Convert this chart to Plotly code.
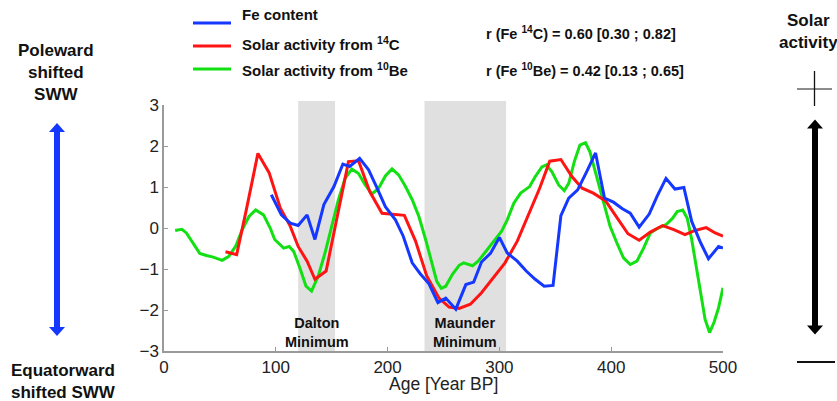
import plotly.graph_objects as go

# ---------------- data ----------------
fe_age = [96, 105, 113, 120, 128, 135, 143, 152, 160, 166, 175, 183, 190, 198, 207, 214,
          222, 229, 237, 245, 252, 261, 270, 277, 284, 292, 300, 307, 316, 324, 332, 340,
          348, 355, 362, 370, 378, 386, 394, 402, 410, 417, 425, 434, 441, 449, 457, 465,
          472, 480, 487, 496, 500]
fe_val = [0.81, 0.32, 0.12, 0.06, 0.32, -0.28, 0.57, 1.01, 1.56, 1.50, 1.70, 1.42, 1.01, 0.52, 0.20, -0.20,
          -0.85, -1.11, -1.36, -1.82, -1.71, -1.98, -1.38, -1.32, -0.83, -0.62, -0.23, -0.61, -0.81, -1.05, -1.25, -1.42,
          -1.40, 0.30, 0.73, 0.93, 1.37, 1.83, 0.73, 0.63, 0.47, 0.36, 0.02, 0.34, 0.77, 1.21, 0.95, 0.99,
          0.16, -0.36, -0.75, -0.45, -0.49]

c14_age = [55, 65, 74, 84, 94, 104, 113, 120, 128, 135, 145, 165, 174, 184, 195, 205, 215, 225,
           235, 246, 255, 264, 274, 284, 295, 305, 316, 326, 336, 345, 355, 365, 374, 384, 395,
           405, 415, 425, 435, 446, 456, 466, 475, 485, 493, 500]
c14_val = [-0.58, -0.65, 0.49, 1.82, 1.35, 0.49, 0.04, -0.45, -0.81, -1.25, -1.05, 1.62, 1.64, 0.89, 0.36, 0.34, 0.31, -0.32,
           -1.17, -1.71, -1.93, -1.96, -1.86, -1.58, -1.21, -0.85, -0.32, 0.32, 0.97, 1.63, 1.67, 1.25, 0.97, 0.85, 0.66,
           0.26, -0.14, -0.30, -0.10, 0.06, -0.04, -0.16, -0.06, 0.01, -0.12, -0.20]

be10_age = [10, 16, 20, 26, 32, 38, 44, 52, 58, 64, 70, 76, 82, 89, 95, 99, 107, 112, 116, 122, 127, 132,
            138, 144, 150, 156, 162, 168, 174, 180, 186, 192, 198, 204, 210, 216, 222, 228, 234, 240, 244,
            248, 252, 258, 264, 268, 276, 281, 289, 295, 302, 307, 313, 319, 327, 332, 338, 342, 347, 353,
            358, 362, 367, 372, 377, 381, 387, 393, 399, 405, 411, 417, 423, 429, 435, 442, 449, 455, 459,
            464, 468, 472, 477, 481, 484, 488, 492, 496, 500]
be10_val = [-0.06, -0.03, -0.12, -0.36, -0.62, -0.67, -0.71, -0.79, -0.69, -0.45, -0.04, 0.28, 0.44, 0.32, 0.00, -0.28,
            -0.49, -0.45, -0.57, -1.01, -1.42, -1.54, -1.17, -0.61, 0.04, 0.69, 1.21, 1.44, 1.33, 1.05, 0.83, 0.97,
            1.27, 1.44, 1.29, 1.01, 0.69, 0.28, -0.28, -0.93, -1.30, -1.47, -1.42, -1.13, -0.91, -0.85, -0.92, -0.81,
            -0.53, -0.32, -0.08, 0.20, 0.61, 0.85, 1.01, 1.25, 1.49, 1.54, 1.37, 1.05, 0.91, 1.09, 1.62, 2.02, 2.08,
            1.86, 1.25, 0.61, 0.04, -0.36, -0.73, -0.89, -0.81, -0.49, -0.12, 0.00, 0.08, 0.24, 0.40, 0.44, 0.24,
            -0.28, -1.09, -1.82, -2.23, -2.55, -2.30, -1.95, -1.46]

minima_names = ["Dalton<br>Minimum", "Maunder<br>Minimum"]
minima_start = [120, 233]
minima_end = [153, 306]

x_ticks = [0, 100, 200, 300, 400, 500]
y_ticks = [-3, -2, -1, 0, 1, 2, 3]

BLUE = "#1438ff"
RED = "#ff1414"
GREEN = "#12e012"
FONT = "Liberation Sans, Arial, Helvetica, sans-serif"

# ---------------- geometry (pixels) ----------------
W_PX, H_PX = 837, 401
L, R, T, B = 164, 723, 105, 351
PW, PH = R - L, B - T


def xp(px):
    return (px - L) / PW


def yp(py):
    return (B - py) / PH


fig = go.Figure()
fig.add_trace(go.Scatter(x=be10_age, y=be10_val, mode="lines", name="Solar activity from 10Be",
                         line=dict(color=GREEN, width=3), showlegend=False))
fig.add_trace(go.Scatter(x=c14_age, y=c14_val, mode="lines", name="Solar activity from 14C",
                         line=dict(color=RED, width=3), showlegend=False))
fig.add_trace(go.Scatter(x=fe_age, y=fe_val, mode="lines", name="Fe content",
                         line=dict(color=BLUE, width=3), showlegend=False))

shapes = []
annotations = []


def bold(text):
    return "<br>".join("<b>" + part + "</b>" for part in text.split("<br>"))


# shaded minima
for name, s, e in zip(minima_names, minima_start, minima_end):
    shapes.append(dict(type="rect", xref="x", yref="paper", x0=s, x1=e, y0=0, y1=yp(101),
                       fillcolor="#e0e0e0", line=dict(width=0), layer="below"))
    annotations.append(dict(xref="x", yref="paper", x=(s + e) / 2, y=yp(332.5), text=bold(name),
                            showarrow=False, xanchor="center", yanchor="middle",
                            font=dict(family=FONT, size=14.5, color="#111")))

# legend (custom)
leg_items = [("Fe content", BLUE, 23, 15),
             ("Solar activity from <sup>14</sup>C", RED, 46, 43),
             ("Solar activity from <sup>10</sup>Be", GREEN, 69, 70)]
for text, col, ly, ty in leg_items:
    shapes.append(dict(type="line", xref="paper", yref="paper", x0=xp(193), x1=xp(231),
                       y0=yp(ly), y1=yp(ly), line=dict(color=col, width=3)))
    annotations.append(dict(xref="paper", yref="paper", x=xp(240), y=yp(ty), text=bold(text),
                            showarrow=False, xanchor="left", yanchor="middle",
                            font=dict(family=FONT, size=15, color="#111")))

annotations.append(dict(xref="paper", yref="paper", x=xp(484), y=yp(33),
                        text=bold("r (Fe <sup>14</sup>C) = 0.60 [0.30 ; 0.82]"),
                        showarrow=False, xanchor="left", yanchor="middle",
                        font=dict(family=FONT, size=14.5, color="#111")))
annotations.append(dict(xref="paper", yref="paper", x=xp(484), y=yp(70),
                        text=bold("r (Fe <sup>10</sup>Be) = 0.42 [0.13 ; 0.65]"),
                        showarrow=False, xanchor="left", yanchor="middle",
                        font=dict(family=FONT, size=14.5, color="#111")))

# side labels
annotations.append(dict(xref="paper", yref="paper", x=xp(55.5), y=yp(72.5),
                        text=bold("Poleward<br>shifted<br>SWW"),
                        showarrow=False, xanchor="center", yanchor="middle",
                        font=dict(family=FONT, size=17, color="#111")))
annotations.append(dict(xref="paper", yref="paper", x=xp(63.5), y=yp(381),
                        text=bold("Equatorward<br>shifted SWW"),
                        showarrow=False, xanchor="center", yanchor="middle",
                        font=dict(family=FONT, size=17, color="#111")))
annotations.append(dict(xref="paper", yref="paper", x=xp(808.5), y=yp(31),
                        text=bold("Solar<br>activity"),
                        showarrow=False, xanchor="center", yanchor="middle",
                        font=dict(family=FONT, size=17, color="#111")))

# x axis title
annotations.append(dict(xref="paper", yref="paper", x=xp(443), y=yp(384),
                        text="Age [Year BP]", showarrow=False, xanchor="center", yanchor="middle",
                        font=dict(family=FONT, size=17.5, color="#222")))


def arrow_path(cx, yt, yb, sh=3.0, hh=8.0, hl=9.0):
    pts = [(cx - sh, yt + hl), (cx - hh, yt + hl), (cx, yt), (cx + hh, yt + hl), (cx + sh, yt + hl),
           (cx + sh, yb - hl), (cx + hh, yb - hl), (cx, yb), (cx - hh, yb - hl), (cx - sh, yb - hl)]
    return "M " + " L ".join(f"{xp(x):.5f},{yp(y):.5f}" for x, y in pts) + " Z"


shapes.append(dict(type="path", xref="paper", yref="paper", path=arrow_path(57, 123, 336),
                   fillcolor=BLUE, line=dict(width=0)))
shapes.append(dict(type="path", xref="paper", yref="paper", path=arrow_path(815, 119.5, 334.5),
                   fillcolor="#000000", line=dict(width=0)))
# plus and minus signs
shapes.append(dict(type="line", xref="paper", yref="paper", x0=xp(797), x1=xp(832), y0=yp(89), y1=yp(89),
                   line=dict(color="#666", width=1.3)))
shapes.append(dict(type="line", xref="paper", yref="paper", x0=xp(814.5), x1=xp(814.5), y0=yp(71), y1=yp(106),
                   line=dict(color="#111", width=1.3)))
shapes.append(dict(type="line", xref="paper", yref="paper", x0=xp(797), x1=xp(835), y0=yp(362), y1=yp(362),
                   line=dict(color="#111", width=2)))

axis_common = dict(showgrid=False, zeroline=False, showline=True, linecolor="#9a9a9a", linewidth=1.5,
                   ticks="inside", ticklen=4, tickcolor="#9a9a9a", tickwidth=1,
                   tickfont=dict(family=FONT, size=17, color="#222"), mirror=False)

fig.update_layout(
    width=W_PX, height=H_PX,
    margin=dict(l=L, r=W_PX - R, t=T, b=H_PX - B, pad=0),
    paper_bgcolor="white", plot_bgcolor="white",
    xaxis=dict(range=[0, 500], tickvals=x_ticks, ticklabelstandoff=0, **axis_common),
    yaxis=dict(range=[-3, 3], tickvals=y_ticks, **axis_common),
    shapes=shapes, annotations=annotations, showlegend=False,
)

fig.write_html("out.html")
